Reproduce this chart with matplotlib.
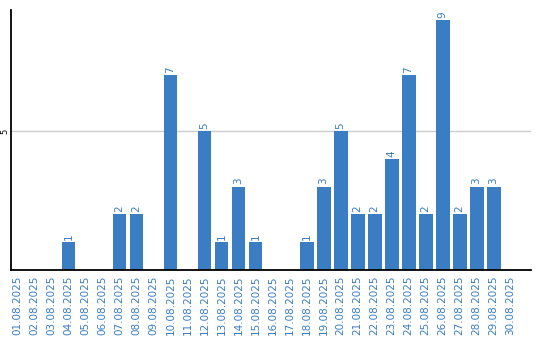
import matplotlib
matplotlib.use("Agg")
import matplotlib.pyplot as plt

dates = ["%02d.08.2025" % d for d in range(1, 31)]
counts = [0, 0, 0, 1, 0, 0, 2, 2, 0, 7,
          0, 5, 1, 3, 1, 0, 0, 1, 3, 5,
          2, 2, 4, 7, 2, 9, 2, 3, 3, 0]

bar_color = "#3b7dc2"

fig = plt.figure(figsize=(5.4, 3.4), dpi=100)
ax = fig.add_axes([11 / 540, 70 / 340, 520 / 540, 260 / 340])

x = list(range(len(dates)))
ax.bar(x, counts, width=0.82, color=bar_color, zorder=2)

for xi, v in zip(x, counts):
    if v > 0:
        ax.text(xi, v + 0.08, str(v), rotation=90, ha="center", va="bottom",
                color=bar_color, fontsize=7.5)

ax.set_xlim(-0.38, 30.2)
ax.set_ylim(0, 9.35)
ax.set_yticks([5])
ax.set_yticklabels(["5"], rotation=90, va="center", fontsize=6)
ax.yaxis.grid(True, color="#cccccc", linewidth=1, zorder=0)
ax.tick_params(axis="y", length=0, pad=1)

ax.set_xticks(x)
ax.set_xticklabels(dates, rotation=90, fontsize=7.5, color=bar_color)
ax.tick_params(axis="x", length=0, pad=4)

for side in ["top", "right"]:
    ax.spines[side].set_visible(False)
for side in ["left", "bottom"]:
    ax.spines[side].set_linewidth(1.3)
    ax.spines[side].set_color("black")

fig.savefig("out.png", dpi=100)
